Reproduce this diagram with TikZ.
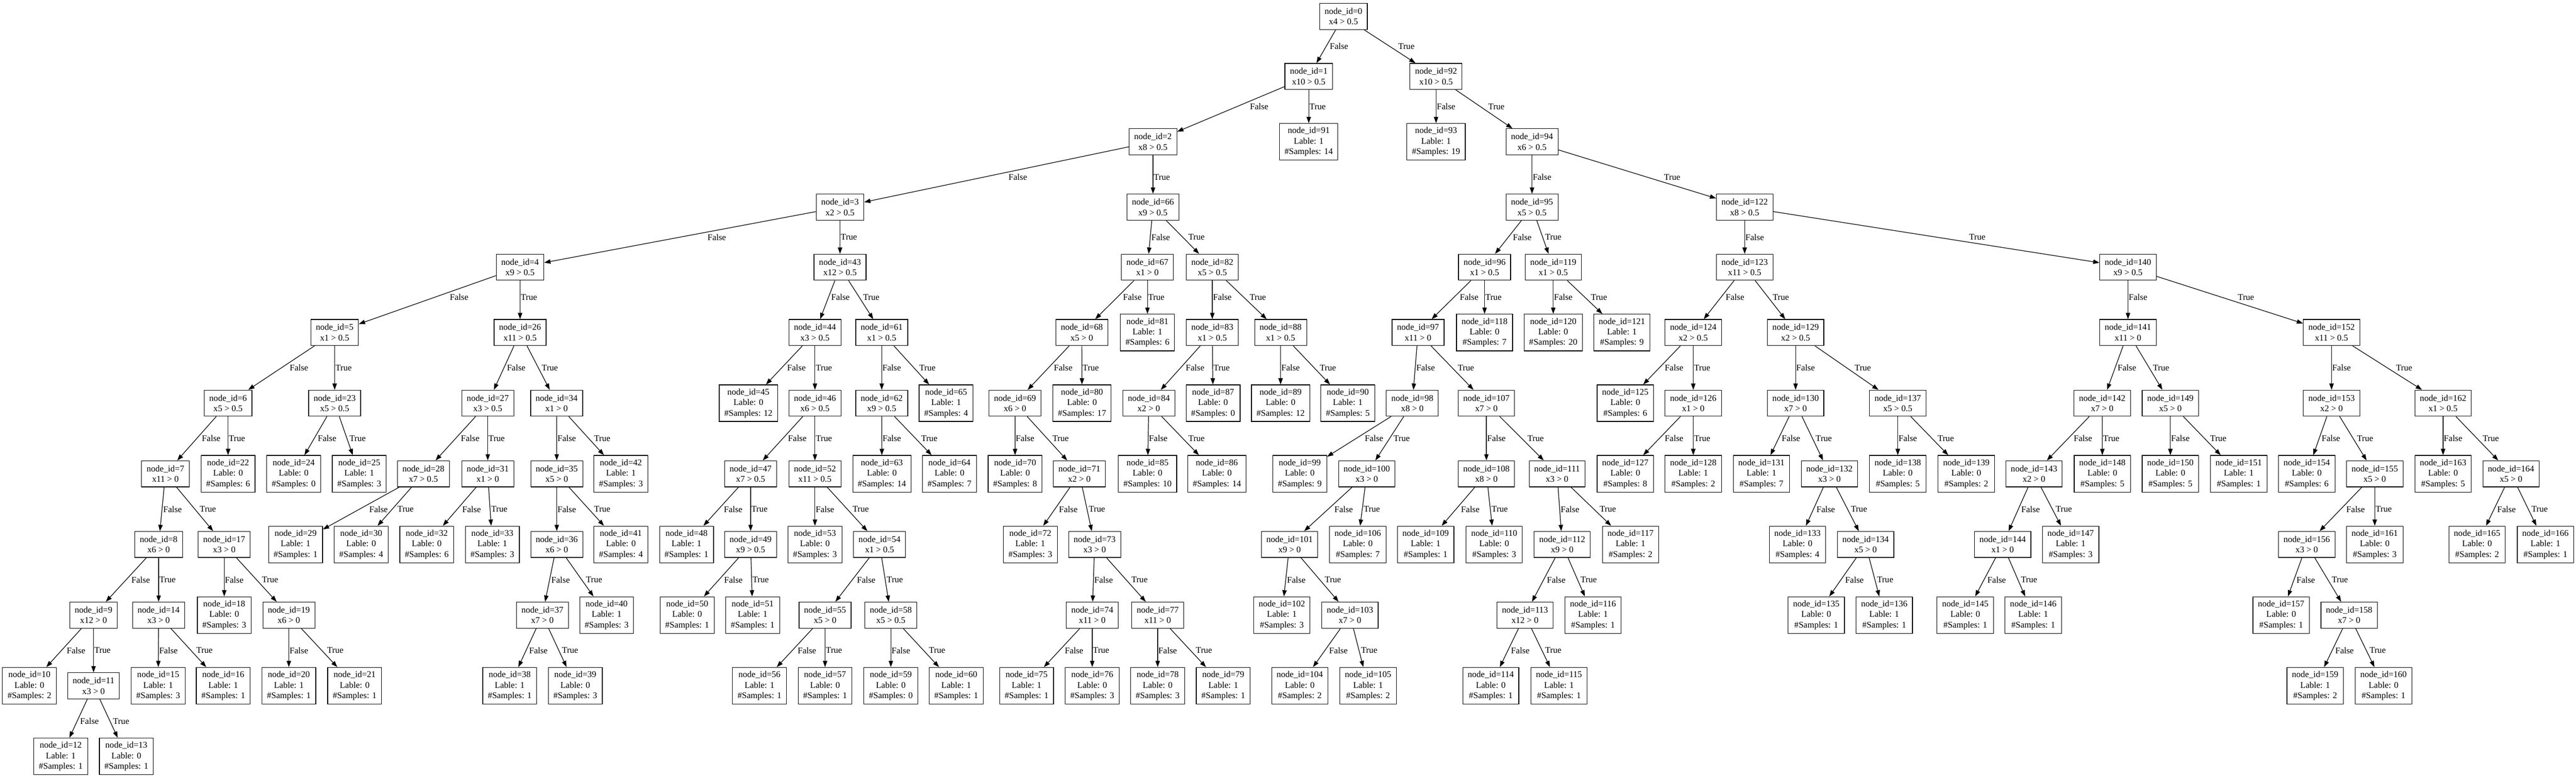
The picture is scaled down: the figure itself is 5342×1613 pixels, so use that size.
\documentclass[tikz,border=0pt]{standalone}
\usepackage{fontspec}
\setmainfont{Liberation Serif}
\usetikzlibrary{arrows.meta,calc}
\newcommand\dtfont{\fontsize{14pt}{16.8pt}\selectfont}
\tikzset{
  dtin/.style={draw, line width=1pt, align=center, font=\dtfont, inner xsep=8pt, inner ysep=0pt, minimum height=41.6pt, minimum width=54pt},
  dtlf/.style={dtin, minimum height=58.5pt},
  dtedge/.style={-{Triangle[length=10pt,width=7pt]}, line width=1pt},
  dtlab/.style={anchor=west, inner xsep=1pt, inner ysep=0pt, font=\dtfont}
}
\newcommand\DTin[4]{\node[dtin] (n#1) at (#2,#3) {node\_id=#1\\#4};}
\newcommand\DTlf[5]{\node[dtlf] (n#1) at (#2,#3) {node\_id=#1\\Lable: #4\\\#Samples: #5};}
\newcommand\DTedge[4]{%
  \draw[dtedge] (n#1) -- (n#2);
  \path let \p1=(n#1.center), \p2=(n#2.center), \p3=(0,#4), \n1={(\x2-\x1)/(\y2-\y1)} in
    node[dtlab] at ({\x1+\n1*(\y3-\y1)+abs(\n1)*8pt}, \y3) {#3};}
\newcommand\DTk[4]{\DTedge{#1}{#2}{False}{#4}\DTedge{#1}{#3}{True}{#4}}
\begin{document}
\begin{tikzpicture}[x=0.76923pt, y=-0.76923pt]
\useasboundingbox (0,0) rectangle (5342,1613);
% rank 0
\DTin{0}{2786}{34}{x4 > 0.5}
% rank 1
\DTin{1}{2714}{158.5}{x10 > 0.5}
\DTin{92}{2978}{158.5}{x10 > 0.5}
% rank 2
\DTin{2}{2391}{294}{x8 > 0.5}
\DTlf{91}{2714}{294}{1}{14}
\DTlf{93}{2978}{294}{1}{19}
\DTin{94}{3177}{294}{x6 > 0.5}
% rank 3
\DTin{3}{1742}{429.5}{x2 > 0.5}
\DTin{66}{2391}{429.5}{x9 > 0.5}
\DTin{95}{3177}{429.5}{x5 > 0.5}
\DTin{122}{3618}{429.5}{x8 > 0.5}
% rank 4
\DTin{4}{1078.5}{554}{x9 > 0.5}
\DTin{43}{1742}{554}{x12 > 0.5}
\DTin{67}{2379.5}{554}{x1 > 0}
\DTin{82}{2514}{554}{x5 > 0.5}
\DTin{96}{3078.6}{554}{x1 > 0.5}
\DTin{119}{3221}{554}{x1 > 0.5}
\DTin{123}{3618}{554}{x11 > 0.5}
\DTin{140}{4412.9}{554}{x9 > 0.5}
% rank 5
\DTin{5}{694}{689.5}{x1 > 0.5}
\DTin{26}{1078.5}{689.5}{x11 > 0.5}
\DTin{44}{1690}{689.5}{x3 > 0.5}
\DTin{61}{1828.5}{689.5}{x1 > 0.5}
\DTin{68}{2243.4}{689.5}{x5 > 0}
\DTlf{81}{2379.5}{689.5}{1}{6}
\DTin{83}{2514}{689.5}{x1 > 0.5}
\DTin{88}{2655.6}{689.5}{x1 > 0.5}
\DTin{97}{2940.7}{689.5}{x11 > 0}
\DTlf{118}{3078.6}{689.5}{0}{7}
\DTlf{120}{3221}{689.5}{0}{20}
\DTlf{121}{3363.4}{689.5}{1}{9}
\DTin{124}{3511.4}{689.5}{x2 > 0.5}
\DTin{129}{3723.6}{689.5}{x2 > 0.5}
\DTin{141}{4412.9}{689.5}{x11 > 0}
\DTin{152}{4835}{689.5}{x11 > 0.5}
% rank 6
\DTin{6}{473}{836}{x5 > 0.5}
\DTin{23}{694}{836}{x5 > 0.5}
\DTin{27}{1011.5}{836}{x3 > 0.5}
\DTin{34}{1154.3}{836}{x1 > 0}
\DTlf{45}{1552}{836}{0}{12}
\DTin{46}{1690}{836}{x6 > 0.5}
\DTin{62}{1828.5}{836}{x9 > 0.5}
\DTlf{65}{1962}{836}{1}{4}
\DTin{69}{2104.9}{836}{x6 > 0}
\DTlf{80}{2243.8}{836}{0}{17}
\DTin{84}{2382.3}{836}{x2 > 0}
\DTlf{87}{2515.6}{836}{0}{0}
\DTlf{89}{2655.6}{836}{0}{12}
\DTlf{90}{2795}{836}{1}{5}
\DTin{98}{2928.8}{836}{x8 > 0}
\DTin{107}{3082.4}{836}{x7 > 0}
\DTlf{125}{3370.4}{836}{0}{6}
\DTin{126}{3511.4}{836}{x1 > 0}
\DTin{130}{3723.6}{836}{x7 > 0}
\DTin{137}{3935.5}{836}{x5 > 0.5}
\DTin{142}{4359.4}{836}{x7 > 0}
\DTin{149}{4500.8}{836}{x5 > 0}
\DTin{153}{4835}{836}{x2 > 0}
\DTin{162}{5066.3}{836}{x1 > 0.5}
% rank 7
\DTin{7}{343}{982.5}{x11 > 0}
\DTlf{22}{473}{982.5}{0}{6}
\DTlf{24}{609}{982.5}{0}{0}
\DTlf{25}{745}{982.5}{1}{3}
\DTin{28}{878}{982.5}{x7 > 0.5}
\DTin{31}{1011.5}{982.5}{x1 > 0}
\DTin{35}{1154.6}{982.5}{x5 > 0}
\DTlf{42}{1287.6}{982.5}{1}{3}
\DTin{47}{1556.6}{982.5}{x7 > 0.5}
\DTin{52}{1690}{982.5}{x11 > 0.5}
\DTlf{63}{1828.8}{982.5}{0}{14}
\DTlf{64}{1969}{982.5}{0}{7}
\DTlf{70}{2105}{982.5}{0}{8}
\DTin{71}{2238.3}{982.5}{x2 > 0}
\DTlf{85}{2379.7}{982.5}{0}{10}
\DTlf{86}{2523.5}{982.5}{0}{14}
\DTlf{99}{2695.4}{982.5}{0}{9}
\DTin{100}{2834.3}{982.5}{x3 > 0}
\DTin{108}{3082.4}{982.5}{x8 > 0}
\DTin{111}{3229}{982.5}{x3 > 0}
\DTlf{127}{3370.4}{982.5}{0}{8}
\DTlf{128}{3511.4}{982.5}{1}{2}
\DTlf{131}{3652.8}{982.5}{1}{7}
\DTin{132}{3793.8}{982.5}{x3 > 0}
\DTlf{138}{3935.5}{982.5}{0}{5}
\DTlf{139}{4077.6}{982.5}{0}{2}
\DTin{143}{4218}{982.5}{x2 > 0}
\DTlf{148}{4359.8}{982.5}{0}{5}
\DTlf{150}{4500.8}{982.5}{0}{5}
\DTlf{151}{4642.6}{982.5}{1}{1}
\DTlf{154}{4783.6}{982.5}{0}{6}
\DTin{155}{4924.6}{982.5}{x5 > 0}
\DTlf{163}{5066.3}{982.5}{0}{5}
\DTin{164}{5207.3}{982.5}{x5 > 0}
% rank 8
\DTin{8}{329}{1129}{x6 > 0}
\DTin{17}{465}{1129}{x3 > 0}
\DTlf{29}{613}{1129}{1}{1}
\DTlf{30}{749}{1129}{0}{4}
\DTlf{32}{885}{1129}{0}{6}
\DTlf{33}{1021}{1129}{1}{3}
\DTin{36}{1154.6}{1129}{x6 > 0}
\DTlf{41}{1287.6}{1129}{0}{4}
\DTlf{48}{1423.7}{1129}{1}{1}
\DTin{49}{1556.6}{1129}{x9 > 0.5}
\DTlf{53}{1690}{1129}{0}{3}
\DTin{54}{1824}{1129}{x1 > 0.5}
\DTlf{72}{2136.6}{1129}{1}{3}
\DTin{73}{2270}{1129}{x3 > 0}
\DTin{101}{2674.3}{1129}{x9 > 0}
\DTlf{106}{2815.7}{1129}{0}{7}
\DTlf{109}{2956.4}{1129}{1}{1}
\DTlf{110}{3098.6}{1129}{0}{3}
\DTin{112}{3239.6}{1129}{x9 > 0}
\DTlf{117}{3381.3}{1129}{1}{2}
\DTlf{133}{3727.5}{1129}{0}{4}
\DTin{134}{3868.8}{1129}{x5 > 0}
\DTin{144}{4153}{1129}{x1 > 0}
\DTlf{147}{4294}{1129}{1}{3}
\DTin{156}{4783.6}{1129}{x3 > 0}
\DTlf{161}{4924.6}{1129}{0}{3}
\DTlf{165}{5136.8}{1129}{0}{2}
\DTlf{166}{5278.6}{1129}{1}{1}
% rank 9
\DTin{9}{194}{1275.5}{x12 > 0}
\DTin{14}{329}{1275.5}{x3 > 0}
\DTlf{18}{465}{1275.5}{0}{3}
\DTin{19}{599}{1275.5}{x6 > 0}
\DTin{37}{1124.8}{1275.5}{x7 > 0}
\DTlf{40}{1258}{1275.5}{1}{3}
\DTlf{50}{1425}{1275.5}{0}{1}
\DTlf{51}{1560.8}{1275.5}{1}{1}
\DTin{55}{1711}{1275.5}{x5 > 0}
\DTin{58}{1847.4}{1275.5}{x5 > 0.5}
\DTin{74}{2265}{1275.5}{x11 > 0}
\DTin{77}{2400.7}{1275.5}{x11 > 0}
\DTlf{102}{2658.2}{1275.5}{1}{3}
\DTin{103}{2799.5}{1275.5}{x7 > 0}
\DTin{113}{3162.4}{1275.5}{x12 > 0}
\DTlf{116}{3303.4}{1275.5}{1}{1}
\DTlf{135}{3766.4}{1275.5}{0}{1}
\DTlf{136}{3907.4}{1275.5}{1}{1}
\DTlf{145}{4075.5}{1275.5}{0}{1}
\DTlf{146}{4216.4}{1275.5}{1}{1}
\DTlf{157}{4730.5}{1275.5}{0}{1}
\DTin{158}{4871.5}{1275.5}{x7 > 0}
% rank 10
\DTlf{10}{61}{1422}{0}{2}
\DTin{11}{194}{1422}{x3 > 0}
\DTlf{15}{328}{1422}{1}{3}
\DTlf{16}{463}{1422}{1}{1}
\DTlf{20}{599}{1422}{1}{1}
\DTlf{21}{735.5}{1422}{0}{1}
\DTlf{38}{1057}{1422}{1}{1}
\DTlf{39}{1193}{1422}{0}{3}
\DTlf{56}{1575}{1422}{1}{1}
\DTlf{57}{1711}{1422}{0}{1}
\DTlf{59}{1847.4}{1422}{0}{0}
\DTlf{60}{1983}{1422}{1}{1}
\DTlf{75}{2128.9}{1422}{1}{1}
\DTlf{76}{2265}{1422}{0}{3}
\DTlf{78}{2400.7}{1422}{0}{3}
\DTlf{79}{2536.8}{1422}{1}{1}
\DTlf{104}{2695.4}{1422}{0}{2}
\DTlf{105}{2837}{1422}{1}{2}
\DTlf{114}{3091.5}{1422}{0}{1}
\DTlf{115}{3232.9}{1422}{1}{1}
\DTlf{159}{4801}{1422}{1}{2}
\DTlf{160}{4942.8}{1422}{0}{1}
% rank 11
\DTlf{12}{126}{1568.5}{1}{1}
\DTlf{13}{262}{1568.5}{0}{1}
% edges
\DTk{0}{1}{92}{96.25}
\DTk{1}{2}{91}{220.75}
\DTk{92}{93}{94}{220.75}
\DTk{2}{3}{66}{367.25}
\DTk{94}{95}{122}{367.25}
\DTk{3}{4}{43}{491.75}
\DTk{66}{67}{82}{491.75}
\DTk{95}{96}{119}{491.75}
\DTk{122}{123}{140}{491.75}
\DTk{4}{5}{26}{616.25}
\DTk{43}{44}{61}{616.25}
\DTk{67}{68}{81}{616.25}
\DTk{82}{83}{88}{616.25}
\DTk{96}{97}{118}{616.25}
\DTk{119}{120}{121}{616.25}
\DTk{123}{124}{129}{616.25}
\DTk{140}{141}{152}{616.25}
\DTk{5}{6}{23}{762.75}
\DTk{26}{27}{34}{762.75}
\DTk{44}{45}{46}{762.75}
\DTk{61}{62}{65}{762.75}
\DTk{68}{69}{80}{762.75}
\DTk{83}{84}{87}{762.75}
\DTk{88}{89}{90}{762.75}
\DTk{97}{98}{107}{762.75}
\DTk{124}{125}{126}{762.75}
\DTk{129}{130}{137}{762.75}
\DTk{141}{142}{149}{762.75}
\DTk{152}{153}{162}{762.75}
\DTk{6}{7}{22}{909.25}
\DTk{23}{24}{25}{909.25}
\DTk{27}{28}{31}{909.25}
\DTk{34}{35}{42}{909.25}
\DTk{46}{47}{52}{909.25}
\DTk{62}{63}{64}{909.25}
\DTk{69}{70}{71}{909.25}
\DTk{84}{85}{86}{909.25}
\DTk{98}{99}{100}{909.25}
\DTk{107}{108}{111}{909.25}
\DTk{126}{127}{128}{909.25}
\DTk{130}{131}{132}{909.25}
\DTk{137}{138}{139}{909.25}
\DTk{142}{143}{148}{909.25}
\DTk{149}{150}{151}{909.25}
\DTk{153}{154}{155}{909.25}
\DTk{162}{163}{164}{909.25}
\DTk{7}{8}{17}{1055.75}
\DTk{28}{29}{30}{1055.75}
\DTk{31}{32}{33}{1055.75}
\DTk{35}{36}{41}{1055.75}
\DTk{47}{48}{49}{1055.75}
\DTk{52}{53}{54}{1055.75}
\DTk{71}{72}{73}{1055.75}
\DTk{100}{101}{106}{1055.75}
\DTk{108}{109}{110}{1055.75}
\DTk{111}{112}{117}{1055.75}
\DTk{132}{133}{134}{1055.75}
\DTk{143}{144}{147}{1055.75}
\DTk{155}{156}{161}{1055.75}
\DTk{164}{165}{166}{1055.75}
\DTk{8}{9}{14}{1202.25}
\DTk{17}{18}{19}{1202.25}
\DTk{36}{37}{40}{1202.25}
\DTk{49}{50}{51}{1202.25}
\DTk{54}{55}{58}{1202.25}
\DTk{73}{74}{77}{1202.25}
\DTk{101}{102}{103}{1202.25}
\DTk{112}{113}{116}{1202.25}
\DTk{134}{135}{136}{1202.25}
\DTk{144}{145}{146}{1202.25}
\DTk{156}{157}{158}{1202.25}
\DTk{9}{10}{11}{1348.75}
\DTk{14}{15}{16}{1348.75}
\DTk{19}{20}{21}{1348.75}
\DTk{37}{38}{39}{1348.75}
\DTk{55}{56}{57}{1348.75}
\DTk{58}{59}{60}{1348.75}
\DTk{74}{75}{76}{1348.75}
\DTk{77}{78}{79}{1348.75}
\DTk{103}{104}{105}{1348.75}
\DTk{113}{114}{115}{1348.75}
\DTk{158}{159}{160}{1348.75}
\DTk{11}{12}{13}{1495.25}
\end{tikzpicture}
\end{document}
